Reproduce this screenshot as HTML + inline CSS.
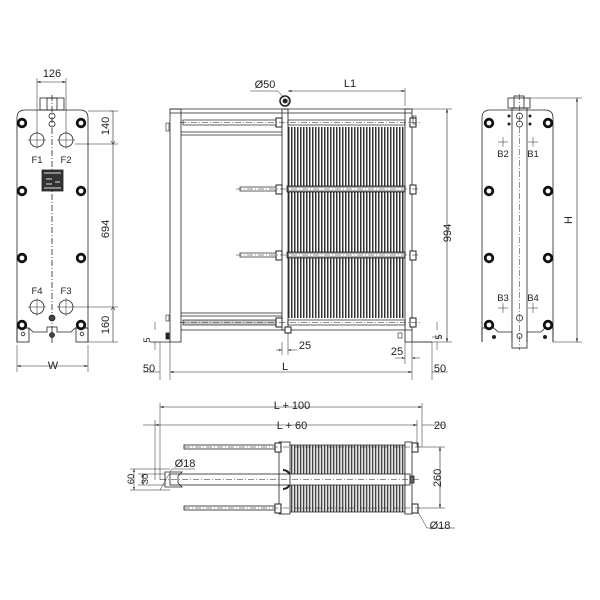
<!DOCTYPE html>
<html><head><meta charset="utf-8"><style>html,body{margin:0;padding:0;background:#fff}svg{display:block}text{font-family:"Liberation Sans",sans-serif;fill:#222}</style></head><body>
<svg width="600" height="600" viewBox="0 0 600 600" xmlns="http://www.w3.org/2000/svg">
<defs>
<pattern id="pl" width="3" height="10" patternUnits="userSpaceOnUse"><rect width="3" height="10" fill="#fff"/><rect width="1" height="10" fill="#333"/><rect x="1" width="1" height="10" fill="#999"/></pattern>
<pattern id="pl2" width="3" height="10" patternUnits="userSpaceOnUse"><rect width="3" height="10" fill="#eee"/><rect width="1" height="10" fill="#444"/><rect x="1.2" width="1" height="10" fill="#aaa"/></pattern>
<marker id="a" viewBox="0 0 10 6" refX="10" refY="3" markerWidth="6" markerHeight="4" orient="auto-start-reverse"><path d="M0,0L10,3L0,6z" fill="#222"/></marker>
</defs>
<g stroke="#222" stroke-width="0.8" fill="none">
<!-- LEFT VIEW -->
<path d="M17,342 V118 Q17,110 25,110 H80 Q88,110 88,118 V342" />
<path d="M17,342 V328 H29 L33,332 H47 V327 H57 V332 H71 L75,328 H88 V342"/>
<rect x="17" y="328" width="12" height="14"/><rect x="76" y="328" width="12" height="14"/>
<rect x="40" y="98" width="24" height="12"/><rect x="47" y="98" width="10" height="12"/>
<line x1="52" y1="95" x2="52" y2="345" stroke-dasharray="6,2,1,2"/>
<circle cx="37" cy="140" r="7"/><circle cx="66" cy="140" r="7"/><circle cx="37" cy="307" r="7"/><circle cx="66" cy="307" r="7"/>
<path d="M28,140H46M37,131V149M57,140H75M66,131V149M28,307H46M37,298V316M57,307H75M66,298V316" stroke-width="0.5"/>
<circle cx="52" cy="116" r="3"/><circle cx="52" cy="124" r="3"/><circle cx="52" cy="318" r="3" fill="#444"/>
<circle cx="23" cy="334" r="1.8"/><circle cx="82" cy="334" r="1.8"/><circle cx="52" cy="335" r="2.5" fill="#444"/>
<g stroke="#111" stroke-width="2.8"><circle cx="22" cy="123" r="3.8"/><circle cx="81" cy="123" r="3.8"/><circle cx="22" cy="191" r="3.8"/><circle cx="81" cy="191" r="3.8"/><circle cx="22" cy="258" r="3.8"/><circle cx="81" cy="258" r="3.8"/><circle cx="22" cy="325" r="3.8"/><circle cx="81" cy="325" r="3.8"/></g>
<rect x="42" y="170" width="21" height="21" fill="#333"/>
<path d="M44,173H61M46,179H52M46,184H52M55,182H60M44,188H61" stroke="#ddd" stroke-width="1"/>
<path d="M37,133V78M66,133V78" stroke-width="0.5"/><line x1="37" y1="82" x2="66" y2="82" marker-start="url(#a)" marker-end="url(#a)" stroke-width="0.6"/>
<path d="M88,111H118M75,144H118M75,307H118M88,342H118" stroke-width="0.5"/>
<line x1="113" y1="111" x2="113" y2="342" stroke-width="0.6"/>
<path d="M110,111L113,111M113,144L111,141M113,144L115,141M113,307L111,310M113,307L115,310" stroke-width="0.6"/>
<path d="M17,345V372M88,345V372" stroke-width="0.5"/><line x1="17" y1="366" x2="88" y2="366" marker-start="url(#a)" marker-end="url(#a)" stroke-width="0.6"/>

<!-- MIDDLE VIEW -->
<rect x="288" y="127" width="117" height="191" fill="url(#pl)" stroke="none"/>
<rect x="287" y="186" width="118" height="6" fill="#fff"/><rect x="287" y="252" width="118" height="6" fill="#fff"/>
<rect x="170" y="109" width="11" height="233"/>
<line x1="170" y1="113" x2="412" y2="113"/><line x1="170" y1="109" x2="412" y2="109"/>
<line x1="181" y1="132" x2="282" y2="132"/><line x1="181" y1="135" x2="282" y2="135"/>
<line x1="181" y1="313" x2="282" y2="313"/><line x1="181" y1="316" x2="282" y2="316"/>
<line x1="181" y1="330" x2="412" y2="330"/>
<rect x="282" y="109" width="6" height="221"/>
<rect x="405" y="109" width="7" height="233"/>
<path d="M150,342H170M412,342H432"/>
<g stroke-width="0.7">
<rect x="183" y="120" width="95" height="5"/><rect x="288" y="120" width="117" height="5"/>
<rect x="183" y="320" width="95" height="5" fill="#ccc"/><rect x="288" y="320" width="117" height="5"/>
<rect x="240" y="187" width="38" height="4"/><rect x="288" y="187" width="117" height="4"/>
<rect x="240" y="253" width="38" height="4"/><rect x="288" y="253" width="117" height="4"/>
</g>
<g stroke-width="1" fill="#fff"><rect x="276" y="118" width="6" height="9"/><rect x="276" y="185" width="6" height="9"/><rect x="276" y="251" width="6" height="9"/><rect x="276" y="318" width="6" height="9"/>
<rect x="410" y="118" width="6" height="9"/><rect x="410" y="185" width="6" height="9"/><rect x="410" y="251" width="6" height="9"/><rect x="410" y="318" width="6" height="9"/>
<rect x="285" y="327" width="6" height="6"/></g>
<path d="M180,122.5H420M236,189H420M236,255H420M180,322.5H420" stroke-dasharray="6,2,1,2" stroke-width="0.5"/>
<circle cx="285" cy="101" r="5" stroke-width="1.5"/><circle cx="285" cy="101" r="2" fill="#222"/>
<path d="M250,91H278L284,98" stroke-width="0.5"/>
<rect x="166" y="123" width="3" height="8" stroke-width="0.6"/><rect x="413" y="116" width="3" height="8" stroke-width="0.6"/><rect x="166" y="315" width="3" height="6" stroke-width="0.6"/><rect x="166" y="333" width="3" height="6" fill="#222"/><rect x="398" y="333" width="4" height="5" stroke-width="0.6"/>
<path d="M288,96V106M405,88V106" stroke-width="0.5"/><line x1="288" y1="91" x2="405" y2="91" marker-start="url(#a)" marker-end="url(#a)" stroke-width="0.6"/>
<path d="M412,109H452M412,342H452" stroke-width="0.5"/><line x1="447" y1="109" x2="447" y2="342" marker-start="url(#a)" marker-end="url(#a)" stroke-width="0.6"/>
<path d="M437,322V330M437,350V342M432,337H442" stroke-width="0.5"/>
<path d="M155,322V330M155,350V342" stroke-width="0.5"/>
<path d="M282,342V355M288,332V355M405,342V364M412,342V380" stroke-width="0.5"/>
<line x1="276" y1="350" x2="282" y2="350" marker-end="url(#a)" stroke-width="0.5"/><line x1="297" y1="350" x2="288" y2="350" marker-end="url(#a)" stroke-width="0.5"/>
<line x1="395" y1="358" x2="405" y2="358" marker-end="url(#a)" stroke-width="0.5"/><line x1="420" y1="358" x2="412" y2="358" marker-end="url(#a)" stroke-width="0.5"/>
<path d="M160,342V380M170,342V380M432,342V380" stroke-width="0.5"/>
<line x1="170" y1="372" x2="412" y2="372" marker-start="url(#a)" marker-end="url(#a)" stroke-width="0.6"/>
<line x1="143" y1="372" x2="160" y2="372" stroke-width="0.5"/><line x1="432" y1="372" x2="448" y2="372" stroke-width="0.5"/>

<!-- BOTTOM VIEW -->
<rect x="290" y="445" width="115" height="67" fill="url(#pl2)" stroke="none"/>
<rect x="290" y="474" width="115" height="11" fill="#fff" stroke="none"/>
<line x1="290" y1="445" x2="405" y2="445"/><line x1="290" y1="512" x2="405" y2="512"/>
<rect x="184" y="445" width="96" height="4"/><rect x="184" y="506" width="96" height="4"/>
<rect x="170" y="474" width="240" height="11"/>
<rect x="279" y="442" width="11" height="72"/><rect x="405" y="442" width="7" height="72"/>
<g fill="#fff" stroke-width="1"><rect x="275" y="443" width="6" height="9"/><rect x="275" y="504" width="6" height="9"/><rect x="412" y="443" width="6" height="9"/><rect x="412" y="504" width="6" height="9"/></g>
<path d="M184,447H420M184,508H420M160,479.5H420" stroke-dasharray="6,2,1,2" stroke-width="0.5"/>
<path d="M165,472H182L178,476V483L182,487H165Z"/>
<path d="M283,470c3,0 6,2 6,4M283,489c3,0 6,-2 6,-4" stroke-width="2"/>
<rect x="410" y="476" width="4" height="7" fill="#666"/>
<path d="M160,403V480M155,420V480M422,403V447M417,420V447" stroke-width="0.5"/>
<line x1="160" y1="407" x2="422" y2="407" marker-start="url(#a)" marker-end="url(#a)" stroke-width="0.6"/>
<line x1="155" y1="425" x2="417" y2="425" marker-start="url(#a)" marker-end="url(#a)" stroke-width="0.6"/>
<line x1="143" y1="425" x2="155" y2="425" stroke-width="0.5"/><line x1="422" y1="425" x2="445" y2="425" stroke-width="0.5"/>
<path d="M418,447H445M418,508H445" stroke-width="0.5"/><line x1="440" y1="447" x2="440" y2="508" marker-start="url(#a)" marker-end="url(#a)" stroke-width="0.6"/>
<path d="M130,469H170M138,474H165M138,485H165M130,490H170" stroke-width="0.5"/>
<line x1="134" y1="469" x2="134" y2="490" marker-start="url(#a)" marker-end="url(#a)" stroke-width="0.5"/>
<line x1="143" y1="474" x2="143" y2="485" marker-start="url(#a)" marker-end="url(#a)" stroke-width="0.5"/>
<path d="M195,469H172L160,490" stroke-width="0.5"/><path d="M455,528H427L417,510" stroke-width="0.5"/>

<!-- RIGHT VIEW -->
<path d="M482,342V118Q482,110 490,110H545Q553,110 553,118V342"/>
<path d="M482,342V328H494L498,332H512V342M527,342V332H541L545,328H553V342"/>
<rect x="512" y="108" width="15" height="240"/>
<rect x="508" y="98" width="22" height="10"/><rect x="514" y="96" width="10" height="12"/>
<line x1="519.5" y1="94" x2="519.5" y2="350" stroke-dasharray="6,2,1,2" stroke-width="0.5"/>
<circle cx="519.5" cy="116" r="3"/><circle cx="519.5" cy="124" r="3"/><circle cx="519.5" cy="318" r="3"/><circle cx="519.5" cy="336" r="2.5"/>
<g fill="#222" stroke="none"><circle cx="509" cy="116" r="1.5"/><circle cx="530" cy="116" r="1.5"/><circle cx="509" cy="124" r="1.5"/><circle cx="530" cy="124" r="1.5"/><circle cx="494" cy="337" r="2"/><circle cx="545" cy="337" r="2"/></g>
<g stroke="#111" stroke-width="2.8"><circle cx="489" cy="123" r="3.8"/><circle cx="548" cy="123" r="3.8"/><circle cx="489" cy="191" r="3.8"/><circle cx="548" cy="191" r="3.8"/><circle cx="489" cy="258" r="3.8"/><circle cx="548" cy="258" r="3.8"/><circle cx="489" cy="325" r="3.8"/><circle cx="548" cy="325" r="3.8"/></g>
<path d="M498,142H508M503,137V147M528,142H538M533,137V147M498,308H508M503,303V313M528,308H538M533,303V313" stroke-width="0.5"/>
<path d="M530,98H582M553,342H582" stroke-width="0.5"/><line x1="577" y1="98" x2="577" y2="342" marker-start="url(#a)" marker-end="url(#a)" stroke-width="0.6"/>
</g>
<g font-size="11">
<text x="52" y="77" text-anchor="middle">126</text>
<text x="37" y="163" text-anchor="middle" font-size="9.5">F1</text><text x="66" y="163" text-anchor="middle" font-size="9.5">F2</text>
<text x="37" y="294" text-anchor="middle" font-size="9.5">F4</text><text x="66" y="294" text-anchor="middle" font-size="9.5">F3</text>
<text transform="translate(109,126) rotate(-90)" text-anchor="middle">140</text>
<text transform="translate(109,229) rotate(-90)" text-anchor="middle">694</text>
<text transform="translate(109,325) rotate(-90)" text-anchor="middle">160</text>
<text x="53" y="369" text-anchor="middle">W</text>
<text x="265" y="88" text-anchor="middle">Ø50</text>
<text x="350" y="87" text-anchor="middle">L1</text>
<text transform="translate(451,233) rotate(-90)" text-anchor="middle">994</text>
<text transform="translate(442,337) rotate(-90)" text-anchor="middle" font-size="9">5</text>
<text transform="translate(150,340) rotate(-90)" text-anchor="middle" font-size="9">5</text>
<text x="305" y="349" text-anchor="middle">25</text>
<text x="397" y="355" text-anchor="middle">25</text>
<text x="149" y="372" text-anchor="middle">50</text>
<text x="285" y="370" text-anchor="middle">L</text>
<text x="440" y="372" text-anchor="middle">50</text>
<text x="292" y="409" text-anchor="middle">L + 100</text>
<text x="292" y="429" text-anchor="middle">L + 60</text>
<text x="440" y="429" text-anchor="middle">20</text>
<text x="185" y="467" text-anchor="middle">Ø18</text>
<text transform="translate(134,479) rotate(-90)" text-anchor="middle" font-size="9.5">60</text>
<text transform="translate(148,479) rotate(-90)" text-anchor="middle" font-size="9.5">30</text>
<text transform="translate(441,478) rotate(-90)" text-anchor="middle">260</text>
<text x="440" y="529" text-anchor="middle">Ø18</text>
<text x="503" y="157" text-anchor="middle" font-size="9.5">B2</text><text x="533" y="157" text-anchor="middle" font-size="9.5">B1</text>
<text x="503" y="301" text-anchor="middle" font-size="9.5">B3</text><text x="533" y="301" text-anchor="middle" font-size="9.5">B4</text>
<text transform="translate(572,220) rotate(-90)" text-anchor="middle">H</text>
</g>
</svg>
</body></html>
